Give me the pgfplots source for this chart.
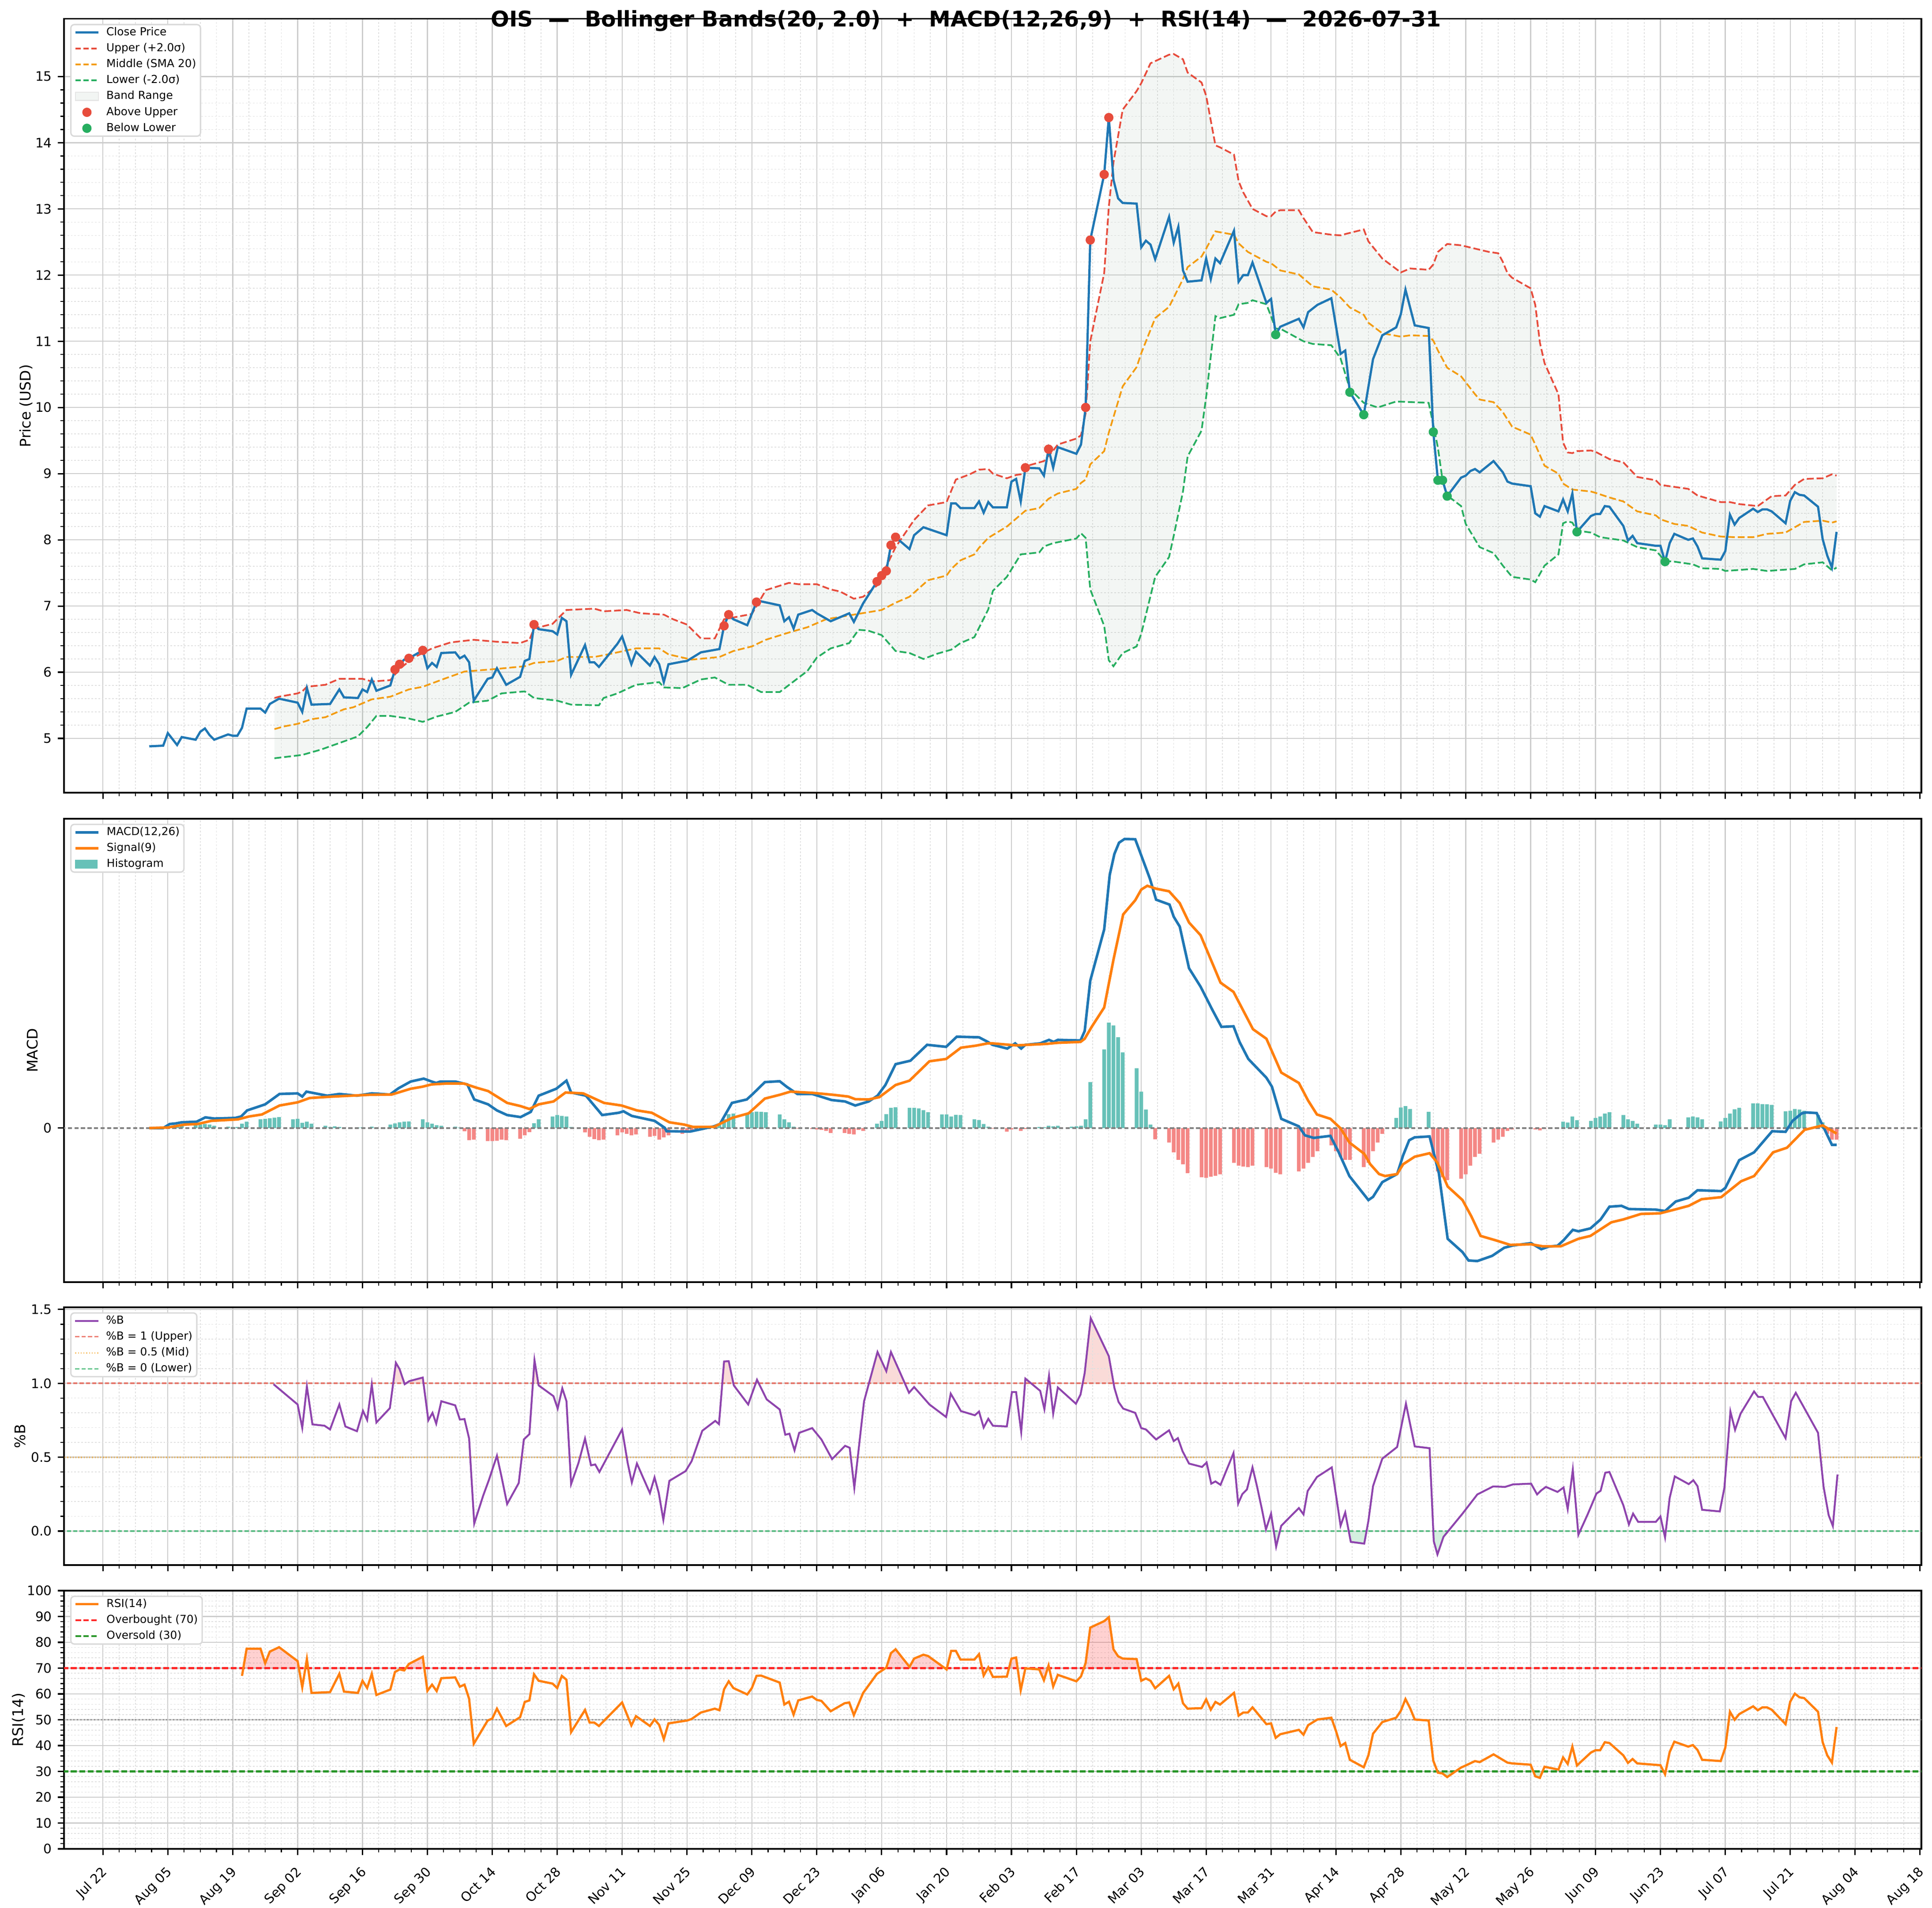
\documentclass[border=0pt]{standalone}
\usepackage{fontspec}
\setmainfont{DejaVu Sans}
\usepackage{pgfplots}
\usepackage{pgfplotstable}
\pgfplotsset{compat=1.18}
\usepgfplotslibrary{fillbetween}

\definecolor{cClose}{HTML}{1F77B4}
\definecolor{cUp}{HTML}{E74C3C}
\definecolor{cMid}{HTML}{F39C12}
\definecolor{cLow}{HTML}{27AE60}
\definecolor{cBand}{RGB}{135,165,145}
\definecolor{cSig}{HTML}{FF7F0E}
\definecolor{cHp}{RGB}{103,193,184}
\definecolor{cHn}{RGB}{244,135,133}
\definecolor{cPB}{HTML}{8E44AD}
\definecolor{cOB}{RGB}{255,40,40}
\definecolor{cOS}{RGB}{40,150,40}

\pgfplotstableread[row sep=\\]{x y\\
-4 4.88\\ -1 4.89\\ 0 5.08\\ 2 4.90\\ 3 5.02\\ 6 4.98\\ 7 5.10\\ 8 5.15\\ 9 5.05\\ 10 4.98\\ 13 5.06\\ 14 5.04\\ 15 5.04\\ 16 5.16\\ 17 5.45\\ 20 5.45\\ 21 5.39\\ 22 5.52\\ 24 5.60\\ 28 5.54\\ 29 5.40\\ 30 5.76\\ 31 5.51\\ 35 5.52\\ 37 5.74\\ 38 5.62\\ 41 5.61\\ 42 5.74\\ 43 5.70\\ 44 5.89\\ 45 5.72\\ 48 5.80\\ 49 6.04\\ 50 6.12\\ 51 6.19\\ 52 6.21\\ 55 6.33\\ 56 6.06\\ 57 6.14\\ 58 6.08\\ 59 6.29\\ 62 6.30\\ 63 6.21\\ 64 6.25\\ 65 6.15\\ 66 5.57\\ 69 5.90\\ 70 5.92\\ 71 6.06\\ 73 5.81\\ 76 5.93\\ 77 6.17\\ 78 6.20\\ 79 6.72\\ 80 6.65\\ 83 6.62\\ 84 6.57\\ 85 6.82\\ 86 6.77\\ 87 5.96\\ 90 6.41\\ 91 6.15\\ 92 6.15\\ 93 6.08\\ 97 6.43\\ 98 6.54\\ 100 6.12\\ 101 6.31\\ 104 6.10\\ 105 6.23\\ 106 6.12\\ 107 5.85\\ 108 6.12\\ 111 6.16\\ 112 6.17\\ 115 6.30\\ 119 6.35\\ 120 6.70\\ 121 6.87\\ 122 6.80\\ 125 6.71\\ 127 7.06\\ 128 7.07\\ 132 7.01\\ 133 6.77\\ 134 6.83\\ 135 6.66\\ 136 6.87\\ 139 6.94\\ 140 6.89\\ 143 6.77\\ 147 6.89\\ 148 6.76\\ 150 7.04\\ 153 7.37\\ 154 7.46\\ 155 7.53\\ 156 7.92\\ 157 8.04\\ 160 7.86\\ 161 8.07\\ 163 8.19\\ 168 8.07\\ 169 8.55\\ 170 8.55\\ 171 8.48\\ 174 8.48\\ 175 8.58\\ 176 8.41\\ 177 8.57\\ 178 8.49\\ 181 8.49\\ 182 8.88\\ 183 8.92\\ 184 8.58\\ 185 9.09\\ 188 9.08\\ 189 8.97\\ 190 9.37\\ 191 9.09\\ 192 9.40\\ 196 9.30\\ 197 9.44\\ 198 10.00\\ 199 12.53\\ 202 13.52\\ 203 14.38\\ 204 13.44\\ 205 13.16\\ 206 13.09\\ 209 13.08\\ 210 12.42\\ 211 12.52\\ 212 12.46\\ 213 12.24\\ 216 12.88\\ 217 12.49\\ 218 12.73\\ 219 12.07\\ 220 11.90\\ 223 11.92\\ 224 12.25\\ 225 11.94\\ 226 12.25\\ 227 12.18\\ 230 12.67\\ 231 11.90\\ 232 12.00\\ 233 12.00\\ 234 12.19\\ 237 11.58\\ 238 11.64\\ 239 11.10\\ 240 11.22\\ 244 11.34\\ 245 11.21\\ 246 11.44\\ 248 11.55\\ 251 11.65\\ 253 10.81\\ 254 10.86\\ 255 10.23\\ 258 9.89\\ 260 10.73\\ 262 11.09\\ 265 11.21\\ 266 11.41\\ 267 11.78\\ 269 11.24\\ 272 11.20\\ 273 9.63\\ 274 8.90\\ 275 8.90\\ 276 8.66\\ 279 8.94\\ 280 8.97\\ 281 9.04\\ 282 9.07\\ 283 9.02\\ 286 9.19\\ 288 9.02\\ 289 8.88\\ 290 8.85\\ 294 8.81\\ 295 8.40\\ 296 8.35\\ 297 8.51\\ 300 8.43\\ 301 8.61\\ 302 8.43\\ 303 8.70\\ 304 8.12\\ 307 8.36\\ 308 8.39\\ 309 8.39\\ 310 8.51\\ 311 8.50\\ 314 8.21\\ 315 7.99\\ 316 8.06\\ 317 7.95\\ 321 7.91\\ 322 7.91\\ 323 7.67\\ 324 7.95\\ 325 8.09\\ 328 8.00\\ 329 8.02\\ 330 7.90\\ 331 7.72\\ 335 7.70\\ 336 7.83\\ 337 8.38\\ 338 8.23\\ 339 8.33\\ 342 8.47\\ 343 8.42\\ 344 8.46\\ 345 8.46\\ 346 8.43\\ 349 8.25\\ 350 8.59\\ 351 8.72\\ 352 8.68\\ 353 8.67\\ 356 8.50\\ 357 8.01\\ 358 7.76\\ 359 7.58\\ 360 8.12\\
}\tClose

\pgfplotstableread[row sep=\\]{x y\\
23 5.61\\ 24 5.63\\ 28 5.68\\ 29 5.71\\ 30 5.78\\ 34 5.81\\ 37 5.90\\ 42 5.90\\ 44 5.86\\ 48 5.88\\ 50 6.05\\ 53 6.22\\ 57 6.36\\ 61 6.45\\ 66 6.49\\ 71 6.46\\ 76 6.44\\ 78 6.49\\ 79 6.66\\ 83 6.73\\ 86 6.94\\ 92 6.96\\ 94 6.92\\ 99 6.94\\ 102 6.89\\ 107 6.87\\ 109 6.80\\ 112 6.72\\ 115 6.51\\ 118 6.51\\ 120 6.80\\ 126 6.88\\ 129 7.24\\ 134 7.35\\ 136 7.33\\ 140 7.33\\ 143 7.25\\ 145 7.22\\ 148 7.11\\ 150 7.14\\ 153 7.31\\ 157 7.89\\ 161 8.30\\ 164 8.52\\ 168 8.57\\ 170 8.91\\ 173 8.99\\ 175 9.06\\ 177 9.07\\ 178 9.00\\ 181 8.93\\ 183 8.98\\ 184 8.99\\ 185 9.11\\ 189 9.19\\ 191 9.35\\ 192 9.44\\ 196 9.53\\ 197 9.58\\ 198 9.91\\ 199 11.00\\ 202 12.03\\ 203 13.03\\ 204 13.70\\ 206 14.50\\ 209 14.78\\ 210 14.90\\ 212 15.20\\ 216 15.33\\ 217 15.34\\ 219 15.26\\ 220 15.06\\ 223 14.91\\ 224 14.71\\ 226 13.96\\ 227 13.93\\ 230 13.82\\ 231 13.42\\ 232 13.25\\ 234 13.00\\ 237 12.89\\ 238 12.89\\ 239 12.96\\ 240 12.98\\ 244 12.98\\ 245 12.86\\ 247 12.65\\ 251 12.61\\ 253 12.60\\ 254 12.62\\ 258 12.69\\ 259 12.51\\ 262 12.25\\ 266 12.04\\ 268 12.10\\ 272 12.08\\ 273 12.16\\ 274 12.35\\ 276 12.47\\ 279 12.45\\ 282 12.40\\ 285 12.35\\ 287 12.33\\ 288 12.20\\ 289 12.03\\ 290 11.96\\ 294 11.80\\ 295 11.55\\ 296 10.98\\ 297 10.67\\ 300 10.20\\ 301 9.47\\ 302 9.32\\ 303 9.31\\ 304 9.34\\ 307 9.35\\ 308 9.33\\ 311 9.22\\ 314 9.17\\ 317 8.95\\ 321 8.90\\ 322 8.83\\ 328 8.77\\ 330 8.67\\ 335 8.57\\ 337 8.57\\ 339 8.54\\ 343 8.51\\ 346 8.66\\ 349 8.67\\ 351 8.83\\ 353 8.92\\ 357 8.93\\ 359 8.99\\ 360 8.97\\
}\tUp

\pgfplotstableread[row sep=\\]{x y\\
23 5.14\\ 25 5.18\\ 28 5.22\\ 31 5.29\\ 34 5.32\\ 38 5.44\\ 40 5.47\\ 44 5.59\\ 48 5.63\\ 52 5.74\\ 55 5.78\\ 60 5.91\\ 64 6.01\\ 71 6.05\\ 77 6.09\\ 79 6.14\\ 84 6.17\\ 86 6.23\\ 92 6.23\\ 95 6.27\\ 101 6.36\\ 106 6.36\\ 108 6.27\\ 113 6.19\\ 119 6.23\\ 122 6.32\\ 126 6.39\\ 129 6.49\\ 134 6.60\\ 138 6.68\\ 142 6.80\\ 148 6.87\\ 154 6.94\\ 157 7.05\\ 160 7.14\\ 164 7.39\\ 168 7.46\\ 169 7.56\\ 171 7.69\\ 174 7.78\\ 175 7.88\\ 177 8.03\\ 181 8.20\\ 183 8.32\\ 185 8.44\\ 188 8.48\\ 190 8.62\\ 192 8.70\\ 196 8.77\\ 197 8.86\\ 198 8.91\\ 199 9.14\\ 202 9.34\\ 203 9.62\\ 206 10.32\\ 209 10.61\\ 210 10.82\\ 213 11.35\\ 216 11.52\\ 217 11.66\\ 219 11.94\\ 220 12.12\\ 223 12.28\\ 224 12.40\\ 226 12.66\\ 230 12.61\\ 231 12.48\\ 233 12.35\\ 237 12.20\\ 238 12.18\\ 240 12.07\\ 244 12.01\\ 247 11.83\\ 251 11.78\\ 253 11.66\\ 255 11.51\\ 258 11.40\\ 259 11.28\\ 262 11.12\\ 266 11.07\\ 268 11.09\\ 272 11.08\\ 273 11.01\\ 274 10.86\\ 276 10.60\\ 279 10.47\\ 282 10.20\\ 283 10.12\\ 286 10.08\\ 288 9.93\\ 290 9.71\\ 294 9.59\\ 295 9.44\\ 297 9.12\\ 300 9.00\\ 301 8.85\\ 303 8.76\\ 307 8.73\\ 308 8.71\\ 311 8.64\\ 314 8.58\\ 317 8.43\\ 321 8.37\\ 322 8.31\\ 325 8.24\\ 328 8.21\\ 331 8.11\\ 335 8.05\\ 338 8.04\\ 342 8.04\\ 345 8.09\\ 349 8.11\\ 351 8.19\\ 353 8.27\\ 357 8.29\\ 359 8.26\\ 360 8.28\\
}\tMid

\pgfplotstableread[row sep=\\]{x y\\
23 4.70\\ 29 4.75\\ 31 4.79\\ 33 4.83\\ 37 4.93\\ 41 5.03\\ 43 5.17\\ 45 5.34\\ 48 5.34\\ 52 5.30\\ 55 5.25\\ 58 5.33\\ 62 5.40\\ 65 5.54\\ 69 5.57\\ 72 5.68\\ 77 5.71\\ 79 5.61\\ 84 5.57\\ 87 5.51\\ 93 5.50\\ 94 5.61\\ 97 5.68\\ 101 5.81\\ 106 5.85\\ 107 5.77\\ 111 5.76\\ 115 5.89\\ 118 5.92\\ 121 5.81\\ 125 5.81\\ 128 5.70\\ 132 5.70\\ 135 5.86\\ 138 6.02\\ 140 6.22\\ 143 6.36\\ 147 6.44\\ 149 6.64\\ 151 6.63\\ 154 6.56\\ 157 6.32\\ 160 6.29\\ 163 6.20\\ 166 6.28\\ 169 6.34\\ 171 6.44\\ 174 6.53\\ 177 6.95\\ 178 7.23\\ 181 7.44\\ 184 7.78\\ 188 7.81\\ 189 7.90\\ 191 7.95\\ 196 8.02\\ 197 8.10\\ 198 8.03\\ 199 7.25\\ 202 6.70\\ 203 6.18\\ 204 6.09\\ 206 6.29\\ 209 6.39\\ 210 6.58\\ 213 7.44\\ 216 7.74\\ 217 8.06\\ 219 8.73\\ 220 9.26\\ 223 9.65\\ 224 10.16\\ 226 11.38\\ 227 11.35\\ 230 11.40\\ 231 11.56\\ 233 11.58\\ 234 11.62\\ 237 11.56\\ 239 11.19\\ 240 11.19\\ 245 11.00\\ 247 10.96\\ 251 10.94\\ 253 10.74\\ 255 10.28\\ 258 10.07\\ 261 10.00\\ 265 10.09\\ 272 10.07\\ 273 9.74\\ 274 9.39\\ 275 8.90\\ 276 8.67\\ 279 8.51\\ 280 8.24\\ 283 7.89\\ 286 7.80\\ 288 7.61\\ 290 7.44\\ 294 7.40\\ 295 7.36\\ 297 7.61\\ 300 7.78\\ 301 8.25\\ 302 8.28\\ 303 8.26\\ 304 8.14\\ 307 8.11\\ 309 8.04\\ 314 7.99\\ 317 7.89\\ 321 7.84\\ 323 7.68\\ 325 7.67\\ 329 7.63\\ 331 7.57\\ 335 7.56\\ 336 7.53\\ 342 7.56\\ 345 7.53\\ 351 7.56\\ 353 7.63\\ 357 7.66\\ 359 7.54\\ 360 7.58\\
}\tLow

\pgfplotstableread[row sep=\\]{x y\\
49 6.04\\ 50 6.12\\ 52 6.21\\ 55 6.33\\ 79 6.72\\ 120 6.70\\ 121 6.87\\ 127 7.06\\ 153 7.37\\ 154 7.46\\ 155 7.53\\ 156 7.92\\ 157 8.04\\ 185 9.09\\ 190 9.37\\ 198 10.00\\ 199 12.53\\ 202 13.52\\ 203 14.38\\
}\tAbove

\pgfplotstableread[row sep=\\]{x y\\
239 11.10\\ 255 10.23\\ 258 9.89\\ 273 9.63\\ 274 8.90\\ 275 8.90\\ 276 8.66\\ 304 8.12\\ 323 7.67\\
}\tBelow

\pgfplotstableread[row sep=\\]{x y\\
-4 0\\ -1 0\\ 0.4 0.014\\ 1.7 0.016\\ 3 0.020\\ 6.2 0.022\\ 8.1 0.037\\ 10 0.033\\ 14.5 0.035\\ 15.8 0.040\\ 17.1 0.061\\ 21 0.082\\ 24.1 0.118\\ 28 0.120\\ 29 0.109\\ 29.9 0.126\\ 34.4 0.112\\ 37 0.118\\ 40.8 0.112\\ 44 0.120\\ 47.9 0.116\\ 49.8 0.138\\ 52.4 0.161\\ 55.2 0.171\\ 56.9 0.161\\ 57.9 0.156\\ 58.8 0.161\\ 62 0.161\\ 64.6 0.151\\ 66.1 0.099\\ 69.1 0.082\\ 71 0.061\\ 73.2 0.045\\ 76.1 0.038\\ 78.3 0.056\\ 80 0.112\\ 83.8 0.136\\ 86 0.164\\ 87 0.123\\ 90.2 0.112\\ 93.7 0.045\\ 97.3 0.053\\ 98.3 0.058\\ 100.1 0.042\\ 105 0.025\\ 107.2 0.001\\ 107.6 -0.011\\ 112.7 -0.012\\ 115.3 -0.003\\ 117.8 0.006\\ 119.1 0.014\\ 121.7 0.087\\ 124.9 0.099\\ 126.2 0.118\\ 128.8 0.159\\ 132 0.162\\ 133.5 0.143\\ 135.8 0.118\\ 139 0.118\\ 143.2 0.097\\ 146.1 0.092\\ 148.3 0.078\\ 151.2 0.092\\ 153.1 0.112\\ 154.8 0.149\\ 157 0.221\\ 160.2 0.233\\ 163.8 0.288\\ 167.9 0.281\\ 170.2 0.316\\ 175 0.314\\ 176.9 0.298\\ 177.9 0.288\\ 181.1 0.275\\ 182.8 0.293\\ 184.1 0.275\\ 185 0.288\\ 188.2 0.293\\ 190.1 0.305\\ 191.1 0.298\\ 192 0.305\\ 196.9 0.303\\ 197.8 0.336\\ 199 0.510\\ 202 0.687\\ 203.2 0.876\\ 204.2 0.948\\ 205.2 0.987\\ 206.4 1.000\\ 208.7 0.999\\ 210 0.943\\ 211.9 0.861\\ 213.2 0.790\\ 216.1 0.773\\ 217 0.731\\ 218.3 0.697\\ 220.3 0.553\\ 222.8 0.489\\ 225.4 0.407\\ 227.3 0.350\\ 229.9 0.352\\ 231.2 0.298\\ 233.1 0.239\\ 237 0.174\\ 238.2 0.143\\ 240.2 0.032\\ 244 0.006\\ 245.3 -0.025\\ 247.2 -0.034\\ 250.8 -0.027\\ 252.6 -0.084\\ 254.9 -0.166\\ 259 -0.249\\ 260 -0.238\\ 262 -0.187\\ 265.2 -0.159\\ 266.5 -0.094\\ 267.8 -0.042\\ 269 -0.032\\ 272.2 -0.029\\ 274.2 -0.156\\ 276.1 -0.383\\ 279.3 -0.429\\ 280.6 -0.458\\ 282.5 -0.460\\ 285.7 -0.442\\ 288.3 -0.414\\ 290.2 -0.406\\ 294.1 -0.398\\ 296.3 -0.419\\ 297.9 -0.410\\ 299.8 -0.407\\ 301.1 -0.388\\ 303.1 -0.352\\ 304.3 -0.357\\ 306.9 -0.347\\ 309.1 -0.316\\ 311 -0.272\\ 313.6 -0.269\\ 315.2 -0.280\\ 321 -0.282\\ 323 -0.287\\ 325.3 -0.254\\ 328.1 -0.241\\ 330 -0.215\\ 335.1 -0.218\\ 336 -0.207\\ 339 -0.111\\ 342.2 -0.084\\ 346.1 -0.011\\ 349 -0.013\\ 350.5 0.025\\ 352.5 0.051\\ 353.5 0.054\\ 355.7 0.052\\ 357.6 -0.011\\ 359 -0.058\\ 360 -0.058\\
}\tMacd

\pgfplotstableread[row sep=\\]{x y\\
-4 0\\ 0 0.002\\ 3.6 0.012\\ 6.4 0.014\\ 9.4 0.025\\ 15.1 0.030\\ 17.5 0.040\\ 20.3 0.047\\ 24.1 0.078\\ 28 0.089\\ 30.6 0.104\\ 35.7 0.109\\ 39.5 0.112\\ 43.4 0.115\\ 48.3 0.116\\ 52.4 0.136\\ 54.9 0.143\\ 56.9 0.151\\ 60.1 0.154\\ 63.9 0.154\\ 66.5 0.140\\ 69.1 0.128\\ 73.2 0.087\\ 76.1 0.076\\ 78 0.066\\ 80 0.082\\ 83.2 0.092\\ 85.8 0.123\\ 89.6 0.120\\ 94.1 0.087\\ 97.9 0.078\\ 101.2 0.061\\ 104.4 0.053\\ 108.2 0.020\\ 111.4 0.012\\ 113.3 0.004\\ 117.8 0.004\\ 121.7 0.035\\ 125.3 0.051\\ 128.8 0.102\\ 132 0.115\\ 134.3 0.126\\ 139 0.122\\ 143.6 0.115\\ 146.8 0.109\\ 148.3 0.100\\ 151.2 0.099\\ 153.5 0.107\\ 157 0.149\\ 160 0.164\\ 164.3 0.231\\ 167.9 0.239\\ 171.1 0.278\\ 174.3 0.285\\ 176.9 0.293\\ 177.9 0.293\\ 183 0.286\\ 189.4 0.291\\ 192 0.295\\ 196.9 0.298\\ 197.8 0.309\\ 199.3 0.350\\ 202 0.417\\ 204 0.582\\ 206.1 0.739\\ 208.7 0.788\\ 210 0.825\\ 211.3 0.838\\ 213.2 0.828\\ 216 0.819\\ 218.3 0.778\\ 220.3 0.711\\ 222.8 0.667\\ 227.1 0.503\\ 229.9 0.471\\ 234.1 0.342\\ 237 0.309\\ 240.2 0.192\\ 244 0.156\\ 246 0.095\\ 247.9 0.047\\ 250.8 0.032\\ 253 -0.001\\ 254.9 -0.050\\ 258.1 -0.089\\ 259.4 -0.125\\ 261.3 -0.159\\ 262.6 -0.166\\ 265.2 -0.159\\ 266.5 -0.125\\ 269 -0.099\\ 272.2 -0.087\\ 273.9 -0.120\\ 276.1 -0.202\\ 279.3 -0.249\\ 281.2 -0.305\\ 283.2 -0.373\\ 286.4 -0.388\\ 289.6 -0.404\\ 294.1 -0.402\\ 296.6 -0.409\\ 300.5 -0.409\\ 304.3 -0.383\\ 306.9 -0.373\\ 311.4 -0.326\\ 314 -0.316\\ 317.8 -0.297\\ 321.9 -0.295\\ 325.3 -0.281\\ 328.1 -0.269\\ 330.9 -0.246\\ 335.1 -0.239\\ 339.4 -0.184\\ 342.2 -0.166\\ 346.3 -0.084\\ 349.3 -0.068\\ 353.1 -0.006\\ 357 0.009\\ 360 -0.019\\
}\tSig

\pgfplotstableread[row sep=\\]{x y\\
0 0.002\\ 1 0.005\\ 2 0.008\\ 3 0.010\\ 6 0.011\\ 7 0.012\\ 8 0.014\\ 9 0.012\\ 10 0.008\\ 13 0.005\\ 14 0.004\\ 15 0.004\\ 16 0.015\\ 17 0.022\\ 20 0.030\\ 21 0.032\\ 22 0.034\\ 23 0.036\\ 24 0.038\\ 27 0.030\\ 28 0.032\\ 29 0.018\\ 30 0.022\\ 31 0.015\\ 34 0.008\\ 35 0.004\\ 36 0.006\\ 37 0.004\\ 38 0.002\\ 41 0.002\\ 42 0.003\\ 44 0.005\\ 45 0.001\\ 48 0.012\\ 49 0.016\\ 50 0.020\\ 51 0.022\\ 52 0.023\\ 55 0.030\\ 56 0.020\\ 57 0.015\\ 58 0.010\\ 59 0.008\\ 62 0.005\\ 63 0.002\\ 79 0.017\\ 80 0.030\\ 83 0.040\\ 84 0.045\\ 85 0.042\\ 86 0.040\\ 87 0.004\\ 118 0.002\\ 119 0.010\\ 120 0.030\\ 121 0.048\\ 122 0.050\\ 125 0.052\\ 126 0.055\\ 127 0.057\\ 128 0.056\\ 129 0.055\\ 132 0.047\\ 133 0.030\\ 134 0.020\\ 135 0.005\\ 153 0.015\\ 154 0.025\\ 155 0.048\\ 156 0.070\\ 157 0.072\\ 160 0.070\\ 161 0.070\\ 162 0.068\\ 163 0.062\\ 164 0.055\\ 167 0.047\\ 168 0.047\\ 169 0.040\\ 170 0.046\\ 171 0.045\\ 174 0.030\\ 175 0.028\\ 176 0.014\\ 177 0.005\\ 183 0.002\\ 188 0.004\\ 189 0.003\\ 190 0.008\\ 191 0.006\\ 192 0.008\\ 195 0.005\\ 196 0.006\\ 197 0.008\\ 198 0.030\\ 199 0.159\\ 202 0.272\\ 203 0.365\\ 204 0.355\\ 205 0.314\\ 206 0.262\\ 209 0.207\\ 210 0.126\\ 211 0.064\\ 212 0.012\\ 265 0.035\\ 266 0.071\\ 267 0.076\\ 268 0.066\\ 272 0.056\\ 301 0.022\\ 302 0.019\\ 303 0.040\\ 304 0.027\\ 307 0.025\\ 308 0.035\\ 309 0.040\\ 310 0.050\\ 311 0.055\\ 314 0.045\\ 315 0.030\\ 316 0.025\\ 317 0.015\\ 321 0.012\\ 322 0.012\\ 323 0.010\\ 324 0.030\\ 328 0.037\\ 329 0.040\\ 330 0.037\\ 331 0.030\\ 335 0.023\\ 336 0.035\\ 337 0.050\\ 338 0.065\\ 339 0.070\\ 342 0.085\\ 343 0.085\\ 344 0.083\\ 345 0.082\\ 346 0.080\\ 349 0.058\\ 350 0.060\\ 351 0.066\\ 352 0.064\\ 353 0.060\\ 356 0.045\\ 357 0.020\\
}\tHp

\pgfplotstableread[row sep=\\]{x y\\
64 -0.011\\ 65 -0.042\\ 66 -0.040\\ 69 -0.045\\ 70 -0.045\\ 71 -0.044\\ 72 -0.040\\ 73 -0.042\\ 76 -0.037\\ 77 -0.025\\ 78 -0.014\\ 90 -0.015\\ 91 -0.030\\ 92 -0.038\\ 93 -0.042\\ 94 -0.040\\ 97 -0.025\\ 98 -0.015\\ 99 -0.020\\ 100 -0.025\\ 101 -0.022\\ 104 -0.030\\ 105 -0.027\\ 106 -0.040\\ 107 -0.032\\ 108 -0.025\\ 111 -0.020\\ 112 -0.015\\ 113 -0.010\\ 114 -0.005\\ 115 -0.002\\ 136 -0.002\\ 139 -0.003\\ 140 -0.005\\ 141 -0.006\\ 142 -0.010\\ 143 -0.017\\ 146 -0.017\\ 147 -0.020\\ 148 -0.022\\ 149 -0.006\\ 150 -0.010\\ 178 -0.002\\ 181 -0.012\\ 182 -0.005\\ 184 -0.010\\ 185 -0.003\\ 213 -0.039\\ 216 -0.050\\ 217 -0.084\\ 218 -0.110\\ 219 -0.125\\ 220 -0.156\\ 223 -0.170\\ 224 -0.172\\ 225 -0.168\\ 226 -0.165\\ 227 -0.160\\ 230 -0.120\\ 231 -0.130\\ 232 -0.133\\ 233 -0.135\\ 234 -0.130\\ 237 -0.135\\ 238 -0.140\\ 239 -0.155\\ 240 -0.160\\ 244 -0.150\\ 245 -0.140\\ 246 -0.120\\ 247 -0.100\\ 248 -0.080\\ 251 -0.060\\ 252 -0.080\\ 253 -0.100\\ 254 -0.110\\ 255 -0.110\\ 258 -0.135\\ 259 -0.120\\ 260 -0.080\\ 261 -0.050\\ 262 -0.020\\ 273 -0.100\\ 274 -0.150\\ 275 -0.170\\ 276 -0.180\\ 279 -0.175\\ 280 -0.160\\ 281 -0.130\\ 282 -0.100\\ 283 -0.089\\ 286 -0.050\\ 287 -0.040\\ 288 -0.030\\ 289 -0.010\\ 290 -0.005\\ 294 -0.003\\ 295 -0.005\\ 296 -0.008\\ 297 -0.003\\ 358 -0.020\\ 359 -0.040\\ 360 -0.040\\
}\tHn

\pgfplotstableread[row sep=\\]{x y\\
22.8 0.994\\ 28 0.857\\ 29 0.699\\ 30 0.979\\ 31.2 0.722\\ 33.8 0.713\\ 35 0.688\\ 37 0.857\\ 38.3 0.708\\ 40.8 0.676\\ 42.1 0.814\\ 43 0.752\\ 44 0.992\\ 45 0.735\\ 47.9 0.832\\ 49.2 1.139\\ 50 1.096\\ 51.1 0.994\\ 52.1 1.015\\ 55 1.039\\ 56.2 0.750\\ 57.1 0.800\\ 57.9 0.727\\ 59 0.879\\ 62 0.851\\ 63 0.755\\ 64 0.758\\ 65 0.626\\ 66.1 0.051\\ 68 0.237\\ 69.3 0.349\\ 71 0.510\\ 72 0.366\\ 73.2 0.183\\ 75.7 0.325\\ 76.8 0.620\\ 78 0.656\\ 79.1 1.156\\ 80 0.986\\ 83.2 0.913\\ 84.1 0.829\\ 85.1 0.966\\ 86 0.879\\ 87 0.318\\ 88.6 0.462\\ 90 0.626\\ 91.3 0.445\\ 92.2 0.451\\ 93.1 0.400\\ 98 0.688\\ 99.2 0.462\\ 100.1 0.329\\ 101.2 0.457\\ 104 0.257\\ 105 0.363\\ 105.9 0.259\\ 106.9 0.076\\ 108.2 0.340\\ 111.7 0.406\\ 113 0.473\\ 115.3 0.679\\ 118.1 0.746\\ 118.9 0.724\\ 120 1.148\\ 121 1.150\\ 122.1 0.986\\ 125.2 0.857\\ 127.1 1.024\\ 129.2 0.891\\ 132 0.823\\ 133.2 0.652\\ 134.1 0.659\\ 135.2 0.547\\ 136.2 0.665\\ 139 0.697\\ 141 0.620\\ 143.3 0.487\\ 146.1 0.577\\ 147.1 0.564\\ 148.1 0.293\\ 150.2 0.879\\ 153.1 1.212\\ 155 1.082\\ 156 1.212\\ 159.9 0.936\\ 161 0.975\\ 164.3 0.857\\ 167.9 0.772\\ 168.9 0.930\\ 171.1 0.812\\ 174.1 0.784\\ 175 0.809\\ 176 0.701\\ 177 0.760\\ 178 0.713\\ 181 0.708\\ 182.1 0.941\\ 183 0.941\\ 184.1 0.671\\ 185 1.032\\ 188.2 0.949\\ 189.1 0.825\\ 190.1 1.051\\ 191 0.795\\ 192 0.972\\ 195.9 0.862\\ 196.9 0.924\\ 197.8 1.071\\ 199.1 1.441\\ 203 1.184\\ 204.2 0.970\\ 205.1 0.874\\ 206.1 0.829\\ 208.7 0.800\\ 210 0.697\\ 211 0.688\\ 213.2 0.620\\ 216 0.682\\ 217 0.609\\ 217.9 0.629\\ 218.9 0.541\\ 220.3 0.457\\ 223.1 0.434\\ 224.1 0.464\\ 225.1 0.321\\ 226 0.336\\ 227.1 0.313\\ 229.9 0.528\\ 230.9 0.186\\ 231.8 0.250\\ 232.8 0.282\\ 234 0.431\\ 235 0.299\\ 236 0.152\\ 236.9 0.011\\ 238 0.118\\ 239.1 -0.105\\ 240.2 0.036\\ 244 0.156\\ 245 0.113\\ 245.9 0.271\\ 247.9 0.366\\ 251.1 0.431\\ 252.1 0.225\\ 253 0.036\\ 254 0.126\\ 255.2 -0.073\\ 258.1 -0.085\\ 259 0.068\\ 260 0.304\\ 262 0.490\\ 265.2 0.569\\ 267.1 0.862\\ 269 0.573\\ 272.2 0.561\\ 273.1 -0.068\\ 273.9 -0.158\\ 275.2 -0.039\\ 279.3 0.118\\ 282.5 0.248\\ 285.9 0.302\\ 288.5 0.299\\ 290.2 0.316\\ 294.1 0.321\\ 295.4 0.248\\ 296.3 0.276\\ 297.3 0.299\\ 299.8 0.265\\ 301.1 0.295\\ 302 0.149\\ 303.1 0.415\\ 304.3 -0.025\\ 306.3 0.113\\ 308.2 0.254\\ 309.1 0.273\\ 310.1 0.395\\ 311 0.400\\ 314 0.175\\ 315.2 0.045\\ 316.1 0.118\\ 317.2 0.062\\ 321 0.062\\ 322 0.099\\ 323 -0.043\\ 324 0.225\\ 325.1 0.370\\ 328.1 0.318\\ 329.1 0.344\\ 330 0.304\\ 331 0.144\\ 334.8 0.133\\ 335.8 0.293\\ 337.1 0.809\\ 338.1 0.685\\ 339.3 0.795\\ 342.2 0.945\\ 343.1 0.908\\ 344.1 0.908\\ 349 0.629\\ 350.2 0.879\\ 351.2 0.936\\ 356 0.665\\ 357.2 0.299\\ 358.3 0.107\\ 359.2 0.034\\ 360.2 0.383\\
}\tPB

\pgfplotstableread[row sep=\\]{x y\\
16 67.0\\ 17 77.5\\ 20 77.5\\ 21 71.9\\ 22 76.4\\ 24 78.1\\ 28 72.7\\ 29 62.6\\ 30 73.5\\ 31 60.4\\ 35 60.7\\ 37 67.8\\ 38 60.9\\ 41 60.4\\ 42 65.1\\ 43 62.3\\ 44 67.8\\ 45 59.6\\ 48 61.7\\ 49 68.5\\ 50 69.5\\ 51 69.1\\ 52 71.6\\ 55 74.4\\ 56 61.2\\ 57 63.6\\ 58 61.1\\ 59 66.1\\ 62 66.4\\ 63 62.8\\ 64 63.6\\ 65 58.1\\ 66 40.7\\ 69 49.7\\ 70 50.5\\ 71 54.3\\ 73 47.6\\ 76 51.0\\ 77 56.9\\ 78 57.5\\ 79 67.6\\ 80 65.1\\ 83 64.0\\ 84 62.3\\ 85 67.0\\ 86 65.5\\ 87 45.2\\ 90 53.8\\ 91 48.9\\ 92 48.9\\ 93 47.6\\ 98 56.7\\ 100 47.8\\ 101 51.4\\ 104 47.6\\ 105 50.1\\ 106 48.0\\ 107 42.5\\ 108 48.6\\ 112 49.7\\ 113 50.3\\ 115 52.8\\ 118 54.3\\ 119 53.7\\ 120 61.8\\ 121 64.9\\ 122 62.3\\ 125 59.8\\ 126 62.3\\ 127 67.0\\ 128 67.1\\ 132 64.4\\ 133 55.9\\ 134 57.0\\ 135 52.0\\ 136 57.5\\ 139 59.0\\ 140 57.7\\ 141 57.3\\ 143 53.3\\ 146 56.4\\ 147 56.7\\ 148 51.8\\ 150 60.4\\ 153 67.8\\ 155 70.2\\ 156 75.8\\ 157 77.3\\ 160 70.5\\ 161 73.7\\ 163 75.2\\ 164 74.7\\ 168 69.5\\ 169 76.7\\ 170 76.7\\ 171 73.3\\ 174 73.3\\ 175 75.4\\ 176 67.1\\ 177 70.3\\ 178 66.6\\ 181 66.7\\ 182 73.7\\ 183 74.1\\ 184 61.5\\ 185 69.9\\ 188 69.5\\ 189 65.3\\ 190 71.0\\ 191 62.9\\ 192 67.4\\ 196 64.9\\ 197 66.8\\ 198 72.0\\ 199 85.7\\ 202 88.2\\ 203 89.7\\ 204 77.3\\ 205 74.6\\ 206 73.7\\ 209 73.5\\ 210 65.1\\ 211 66.0\\ 212 65.1\\ 213 62.2\\ 216 67.0\\ 217 61.8\\ 218 64.0\\ 219 56.4\\ 220 54.3\\ 223 54.5\\ 224 57.9\\ 225 53.9\\ 226 56.9\\ 227 55.9\\ 230 60.4\\ 231 51.6\\ 232 52.8\\ 233 52.8\\ 234 54.8\\ 237 48.3\\ 238 48.6\\ 239 43.0\\ 240 44.4\\ 244 46.1\\ 245 44.2\\ 246 47.9\\ 248 50.1\\ 251 50.8\\ 252 45.7\\ 253 39.8\\ 254 41.0\\ 255 34.5\\ 258 31.6\\ 259 36.2\\ 260 44.6\\ 262 49.1\\ 265 50.8\\ 266 53.5\\ 267 58.0\\ 268 54.5\\ 269 50.1\\ 272 49.7\\ 273 34.1\\ 274 29.5\\ 275 29.2\\ 276 27.8\\ 279 31.5\\ 280 32.3\\ 282 34.0\\ 283 33.6\\ 286 36.6\\ 289 33.4\\ 290 33.1\\ 294 32.6\\ 295 28.1\\ 296 27.5\\ 297 31.8\\ 300 30.7\\ 301 35.4\\ 302 32.9\\ 303 39.6\\ 304 32.3\\ 307 37.3\\ 308 38.2\\ 309 38.2\\ 310 41.3\\ 311 41.0\\ 314 36.2\\ 315 33.3\\ 316 34.8\\ 317 33.1\\ 322 32.4\\ 323 28.9\\ 324 37.5\\ 325 41.5\\ 328 39.6\\ 329 40.2\\ 330 38.3\\ 331 34.5\\ 335 34.0\\ 336 39.2\\ 337 53.1\\ 338 50.0\\ 339 52.2\\ 342 55.2\\ 343 53.7\\ 344 54.8\\ 345 54.8\\ 346 53.9\\ 349 48.3\\ 350 57.0\\ 351 60.1\\ 352 58.7\\ 353 58.4\\ 356 53.1\\ 357 41.3\\ 358 36.2\\ 359 33.4\\ 360 47.2\\
}\tRsi

\pgfplotsset{
  legend image code/.code={\draw[#1] (0pt,0pt) -- (13.4pt,0pt);},
  panel/.style={
    scale only axis, width=1082.3pt,
    xmin=-22.4, xmax=378.3,
    xtick={-14,0,...,378}, minor x tick num=3, xticklabels={},
    tick align=outside, xtick pos=lower, ytick pos=lower,
    major tick length=3.5pt, minor tick length=2pt,
    tick style={black}, major tick style={line width=0.8pt}, minor tick style={line width=0.6pt},
    axis line style={line width=0.8pt},
    xmajorgrids, xminorgrids,
    major grid style={draw=gray!40, line width=0.6pt, solid},
    minor grid style={draw=gray!25, line width=0.4pt, dash pattern=on 1pt off 1pt},
    tick label style={font=\fontsize{7.6}{9}\selectfont},
    /pgf/number format/assume math mode=true,
    ylabel style={font=\fontsize{8.5}{10}\selectfont},
    ylabel shift=-3.6pt,
    legend cell align=left,
    legend style={at={(0,1)}, anchor=north west, xshift=3.6pt, yshift=-2.9pt,
      draw=gray!30, line width=0.8pt, rounded corners=2pt, fill=white,
      font=\fontsize{6.4}{7}\selectfont,
      inner xsep=2pt, inner ysep=1.4pt, row sep=2.9pt, column sep=3.5pt,
      nodes={inner xsep=0.5pt, inner ysep=0pt, text height=4.9pt, text depth=1.5pt, anchor=west}},
  },
  overlay/.style={scale only axis, width=1082.3pt, xmin=-22.4, xmax=378.3, hide axis, clip=true},
}

\begin{document}
\begin{tikzpicture}
\path (0,0) rectangle (1125.76pt,1111.36pt);

% ---------------- Price panel ----------------
\begin{axis}[panel, at={(37.29pt,1100.31pt)}, anchor=north west, height=450.77pt,
  ymin=4.18, ymax=15.87, ytick={5,6,...,15}, minor y tick num=4,
  ymajorgrids, yminorgrids, ylabel={Price (USD)}, ylabel shift=-5.3pt]
\addplot[draw=none, forget plot, name path=U] table {\tUp};
\addplot[draw=none, forget plot, name path=L] table {\tLow};
\addplot[fill=cBand, fill opacity=0.1, draw=none, forget plot] fill between[of=U and L];
\addplot[cUp, line width=1pt, dash pattern=on 4pt off 1.7pt, forget plot] table {\tUp};
\addplot[cMid, line width=1pt, dash pattern=on 4pt off 1.7pt, forget plot] table {\tMid};
\addplot[cLow, line width=1pt, dash pattern=on 4pt off 1.7pt, forget plot] table {\tLow};
\addplot[cClose, line width=1.3pt, forget plot] table {\tClose};
\addplot[only marks, color=cUp, mark=*, mark size=2.5pt, mark options={solid, draw=cUp, fill=cUp}, forget plot] table {\tAbove};
\addplot[only marks, color=cLow, mark=*, mark size=2.5pt, mark options={solid, draw=cLow, fill=cLow}, forget plot] table {\tBelow};
\addlegendimage{cClose, line width=1.3pt}
\addlegendentry{Close Price}
\addlegendimage{cUp, line width=1pt, dash pattern=on 3.2pt off 1.4pt}
\addlegendentry{Upper (+2.0σ)}
\addlegendimage{cMid, line width=1pt, dash pattern=on 3.2pt off 1.4pt}
\addlegendentry{Middle (SMA 20)}
\addlegendimage{cLow, line width=1pt, dash pattern=on 3.2pt off 1.4pt}
\addlegendentry{Lower (-2.0σ)}
\addlegendimage{legend image code/.code={\filldraw[sharp corners, fill=cBand, fill opacity=0.1, draw=gray!20, line width=0.6pt] (0pt,-2.35pt) rectangle (13.4pt,2.35pt);}}
\addlegendentry{Band Range}
\addlegendimage{legend image code/.code={\fill[cUp] (6.7pt,0pt) circle (2.3pt);}}
\addlegendentry{Above Upper}
\addlegendimage{legend image code/.code={\fill[cLow] (6.7pt,0pt) circle (2.3pt);}}
\addlegendentry{Below Lower}
\end{axis}

% ---------------- MACD panel ----------------
\begin{axis}[panel, at={(37.29pt,634.36pt)}, anchor=north west, height=270pt,
  ymin=-0.533, ymax=1.070, ytick={0}, yticklabels={0}, ylabel={MACD}]
\addplot[ybar, bar width=0.8, bar shift=0pt, fill=cHp, draw=none, forget plot] table {\tHp};
\addplot[ybar, bar width=0.8, bar shift=0pt, fill=cHn, draw=none, forget plot] table {\tHn};
\addplot[gray, line width=0.9pt, dash pattern=on 2.4pt off 1.4pt, forget plot] coordinates {(-30,0) (400,0)};
\addplot[cClose, line width=1.5pt, forget plot] table {\tMacd};
\addplot[cSig, line width=1.5pt, forget plot] table {\tSig};
\addlegendimage{cClose, line width=1.5pt}
\addlegendentry{MACD(12,26)}
\addlegendimage{cSig, line width=1.5pt}
\addlegendentry{Signal(9)}
\addlegendimage{legend image code/.code={\fill[sharp corners, cHp] (0pt,-2.2pt) rectangle (12.5pt,2.2pt);}}
\addlegendentry{Histogram}
\end{axis}

% ---------------- %B shading overlays (clipped by their own axis boxes) ----------------
\begin{axis}[overlay, at={(37.29pt,349.71pt)}, anchor=north west, height=44.29pt, ymin=1, ymax=1.5145]
\addplot[draw=none, forget plot, name path=PBa] table {\tPB};
\addplot[draw=none, forget plot, name path=ONEa] coordinates {(22.8,1) (360.2,1)};
\addplot[fill=cUp, fill opacity=0.2, draw=none, forget plot] fill between[of=PBa and ONEa];
\end{axis}
\begin{axis}[overlay, at={(37.29pt,219.34pt)}, anchor=north west, height=19.80pt, ymin=-0.230, ymax=0]
\addplot[draw=none, forget plot, name path=PBb] table {\tPB};
\addplot[draw=none, forget plot, name path=ZEROb] coordinates {(22.8,0) (360.2,0)};
\addplot[fill=cLow, fill opacity=0.2, draw=none, forget plot] fill between[of=PBb and ZEROb];
\end{axis}

% ---------------- %B panel ----------------
\begin{axis}[panel, at={(37.29pt,349.71pt)}, anchor=north west, height=150.17pt,
  ymin=-0.230, ymax=1.5145, ytick={0,0.5,1,1.5}, yticklabels={0.0,0.5,1.0,1.5},
  minor y tick num=4, ymajorgrids, yminorgrids, ylabel={\%B}]
\addplot[cUp, draw opacity=0.7, line width=1pt, dash pattern=on 2.4pt off 1.3pt, forget plot] coordinates {(-30,1) (400,1)};
\addplot[cMid, draw opacity=0.6, line width=1pt, dash pattern=on 0.6pt off 1pt, forget plot] coordinates {(-30,0.5) (400,0.5)};
\addplot[cLow, draw opacity=0.7, line width=1pt, dash pattern=on 2.4pt off 1.3pt, forget plot] coordinates {(-30,0) (400,0)};
\addplot[cPB, line width=1.1pt, forget plot] table {\tPB};
\addlegendimage{cPB, line width=1.1pt}
\addlegendentry{\%B}
\addlegendimage{cUp, draw opacity=0.7, line width=0.8pt, dash pattern=on 2.4pt off 1.3pt}
\addlegendentry{\%B = 1 (Upper)}
\addlegendimage{cMid, draw opacity=0.6, line width=0.8pt, dash pattern=on 0.6pt off 1pt}
\addlegendentry{\%B = 0.5 (Mid)}
\addlegendimage{cLow, draw opacity=0.7, line width=0.8pt, dash pattern=on 2.4pt off 1.3pt}
\addlegendentry{\%B = 0 (Lower)}
\end{axis}

% ---------------- RSI panel ----------------
\begin{axis}[panel, at={(37.29pt,184.63pt)}, anchor=north west, height=150.43pt,
  ymin=0, ymax=100, ytick={0,10,...,100}, minor y tick num=4,
  ymajorgrids, yminorgrids, ylabel={RSI(14)}, ylabel shift=-5.8pt,
  xticklabels={Jul 22,Aug 05,Aug 19,Sep 02,Sep 16,Sep 30,Oct 14,Oct 28,Nov 11,Nov 25,Dec 09,Dec 23,Jan 06,Jan 20,Feb 03,Feb 17,Mar 03,Mar 17,Mar 31,Apr 14,Apr 28,May 12,May 26,Jun 09,Jun 23,Jul 07,Jul 21,Aug 04,Aug 18},
  xticklabel style={rotate=45, anchor=north east, xshift=-2pt}]
\addplot[draw=none, forget plot, name path=R] table {\tRsi};
\addplot[draw=none, forget plot, name path=R70] coordinates {(16,70) (360,70)};
\addplot[draw=none, forget plot, name path=R30] coordinates {(16,30) (360,30)};
\addplot[fill=red, fill opacity=0.18, draw=none, forget plot] fill between[of=R and R70, soft clip={domain y=69.9:200}];
\addplot[fill=green!60!black, fill opacity=0.18, draw=none, forget plot] fill between[of=R and R30, soft clip={domain y=-100:30.1}];
\addplot[gray, draw opacity=0.8, line width=0.8pt, dash pattern=on 0.8pt off 1.2pt, forget plot] coordinates {(-30,50) (400,50)};
\addplot[cOB, line width=1.1pt, dash pattern=on 3.4pt off 1.5pt, forget plot] coordinates {(-30,70) (400,70)};
\addplot[cOS, line width=1.1pt, dash pattern=on 3.4pt off 1.5pt, forget plot] coordinates {(-30,30) (400,30)};
\addplot[cSig, line width=1.3pt, forget plot] table {\tRsi};
\addlegendimage{cSig, line width=1.4pt}
\addlegendentry{RSI(14)}
\addlegendimage{cOB, line width=1.1pt, dash pattern=on 3.2pt off 1.4pt}
\addlegendentry{Overbought (70)}
\addlegendimage{cOS, line width=1.1pt, dash pattern=on 3.2pt off 1.4pt}
\addlegendentry{Oversold (30)}
\end{axis}

\node[anchor=base, font=\bfseries\fontsize{12.6}{15}\selectfont] at (562.88pt,1095.9pt)
  {OIS\ \ —\ \ Bollinger Bands(20, 2.0)\ \ +\ \ MACD(12,26,9)\ \ +\ \ RSI(14)\ \ —\ \ 2026-07-31};
\pgfresetboundingbox
\useasboundingbox (0,0) rectangle (1125.76pt,1111.36pt);
\end{tikzpicture}
\end{document}
